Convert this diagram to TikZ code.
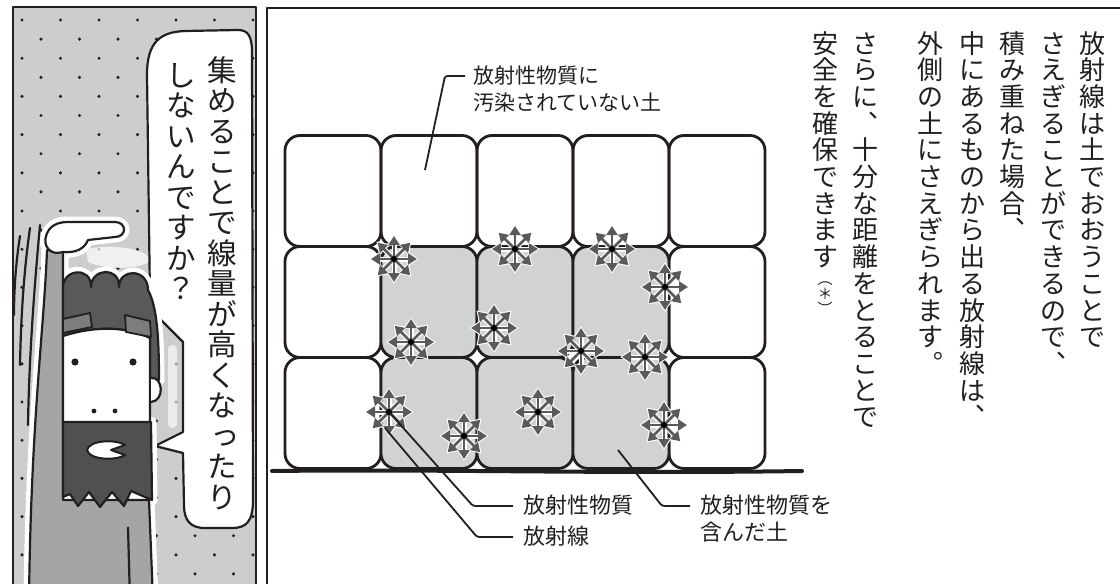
\documentclass[tikz,border=0pt]{standalone}
\usepackage{fontspec}
\newfontfamily\jp{Noto Sans CJK JP}
\usetikzlibrary{arrows.meta}

\definecolor{ink}{HTML}{231F20}
\definecolor{soil}{HTML}{D1D2D4}
\definecolor{symg}{HTML}{5A5A5A}
\definecolor{panelbg}{HTML}{CDCDCD}
\definecolor{armg}{HTML}{A5A5A5}
\definecolor{hairg}{HTML}{595959}
\definecolor{browg}{HTML}{7D7D7D}
\definecolor{beardg}{HTML}{505050}

% vertical writing: one character per cell, cells stacked top to bottom
\makeatletter
\newcommand\tatecol[2]{%
  \vbox{\offinterlineskip
    \@tfor\tatech:=#2\do{%
      \hbox to 1em{\hss\tatech\hss\vrule height .88em depth .12em width 0pt}%
      \vskip#1}}}
\makeatother
% small kana moved towards the upper right of its cell
\newcommand\smk[1]{\hbox{\kern.2em\raise.06em\hbox{#1}}}

\newcommand\rtfont{\fontsize{26pt}{27pt}\selectfont\jp}
\newcommand\bubfont{\fontsize{29.5pt}{30pt}\selectfont\jp}
\newcommand\labA{\fontsize{21pt}{24pt}\selectfont\jp}
\newcommand\labB{\fontsize{22pt}{24pt}\selectfont\jp}
\newcommand\astfont{\fontsize{15pt}{16pt}\selectfont\jp}

% outlines of the cartoon figure
\def\bodypath{(47,250) .. controls (44,330) and (31,420) .. (29,600) -- (153,600) -- (149,500) -- (63,500) -- (63,250) -- cycle}
\def\handpath{(63,252) .. controls (50,256) and (43,246) .. (46,236) .. controls (49,226) and (57,222) .. (68,222) -- (115,222) .. controls (127,222) and (127,237) .. (115,237) -- (88,240) .. controls (84,250) and (74,253) .. (63,252) -- cycle}
\def\hairpath{(63,336) -- (63,290) .. controls (61,268) and (92,266) .. (91,287) .. controls (91,268) and (120,266) .. (119,287) .. controls (119,268) and (148,268) .. (148,290) .. controls (156,305) and (159,330) .. (159,380) -- (150,380) -- (150,338) .. controls (125,326) and (95,326) .. (63,336) -- cycle}
\def\facepath{(63,336) .. controls (95,326) and (125,326) .. (150,338) -- (150,424) -- (63,424) -- cycle}
\def\beardpath{(63,422) -- (151,422) -- (152,500) -- (131,491) -- (124,506) -- (112,492) -- (100,507) -- (89,492) -- (78,506) -- (70,494) -- (63,497) -- cycle}
\def\bubblepath{(150,300) -- (147,75) .. controls (147,42) and (160,32) .. (185,31) -- (238,30) .. controls (248,30) and (252,36) .. (252,52) -- (253,500) .. controls (253,522) and (246,528) .. (232,528) -- (205,528) .. controls (190,528) and (184,520) .. (184,505) -- (183,453) -- (155,446) -- (183,432) -- (183,342) -- (157,316) -- cycle}

\begin{document}
\begin{tikzpicture}[x=1pt,y=-1pt,line join=round,
  blk/.style={draw=ink,line width=2.8pt,rounded corners=15pt,minimum width=96pt,
    minimum height=111pt,inner sep=0pt,outer sep=0pt},
  hotblk/.style={blk,fill=soil},
  labA/.style={anchor=west,inner sep=0pt,text height=17pt,text depth=2.5pt,text=ink,font=\labA},
  labB/.style={anchor=west,inner sep=0pt,text height=18pt,text depth=2.5pt,text=ink,font=\labB},
  lead/.style={draw=ink,line width=1.8pt,rounded corners=2.5pt},
  tate/.style={anchor=north,inner sep=0pt,text=ink},
  outl/.style={draw=ink,line width=2.2pt},
  radsym/.pic={
    \foreach \a in {0,45,...,315}
      \draw[white,line width=5pt,-{Triangle[length=11.5pt,width=14.5pt]}] (0,0) -- (\a:24.8);
    \foreach \a in {0,45,...,315}
      \draw[symg,line width=2.6pt,-{Triangle[length=9pt,width=11pt]}] (0,0) -- (\a:23);
    \fill[black] (0,0) circle (3pt);
  }]
\useasboundingbox (0,0) rectangle (1120,584);
\fill[white] (0,0) rectangle (1120,584);

% ---------- left panel ----------
\begin{scope}
  \clip (13,7) rectangle (256,584);
  \fill[panelbg] (13,7) rectangle (256,584);
  \foreach \k in {0,...,29}{
    \pgfmathsetmacro\yy{20+19.1*\k}
    \pgfmathsetmacro\xo{ifthenelse(mod(\k,2)==0,22,41)}
    \foreach \j in {0,...,6}
      \fill[ink] ({\xo+38.5*\j},\yy) circle (1.7pt);
  }
  % soft highlights
  \fill[white,opacity=.7] (86,250) .. controls (100,244) and (140,246) .. (150,258)
    .. controls (152,268) and (110,272) .. (88,262) -- cycle;
  \fill[white,opacity=.6,rounded corners=4pt] (168,345) rectangle (177,428);

  % speech bubble
  \draw[outl,fill=white] \bubblepath;

  % figure: white halo, then the filled parts
  \path[draw=white,line width=11pt] \bodypath \handpath \hairpath \beardpath;
  \draw[outl,fill=armg] \bodypath;
  \draw[outl] (128,527) -- (130,600);
  \draw[outl,fill=white] \handpath;
  \draw[outl,fill=hairg] \hairpath;
  \draw[outl,fill=white] \facepath;
  \draw[outl,fill=white] (151,378) .. controls (163,376) and (165,401) .. (151,402);
  \draw[outl,fill=beardg] \beardpath;
  \draw[outl,line width=1.8pt,fill=browg] (63,319) -- (90,313) -- (92,327) -- (63,333) -- cycle;
  \draw[outl,line width=1.8pt,fill=browg] (125,315) -- (150,321) -- (151,337) -- (126,332) -- cycle;
  \fill[ink] (75,362) circle (3.6pt) (133,362) circle (3.6pt);
  \fill[ink] (94,411) circle (2.4pt) (115,411) circle (2.4pt);
  \draw[outl,line width=2pt,fill=white] (125,445) .. controls (116,439) and (89,440) .. (87,450)
    .. controls (89,460) and (116,461) .. (125,455) -- (111,450) -- cycle;
  % motion lines of the waving arm
  \draw[outl,line cap=round] (20,236) .. controls (16,262) and (14,288) .. (14,315);
  \draw[outl,line cap=round] (30,228) .. controls (24,270) and (21,315) .. (20,365);
  \draw[outl,line cap=round] (40,225) .. controls (34,290) and (29,360) .. (28,425);
\end{scope}

% bubble text
\node[tate,font=\bubfont] (q1) at (222,55) {\tatecol{1pt}{集めることで線量が高くな{\smk{っ}}たり}};
\node[tate,font=\bubfont] (q2) at (181,60) {\tatecol{1pt}{しないんですか？}};

% panel frames
\draw[ink,line width=2pt] (13,600) -- (13,7) -- (256,7) -- (256,600);
\draw[ink,line width=2.2pt] (1125,8) -- (267,8) -- (267,600);

% ---------- right panel: stacked bags of soil ----------
\foreach \r/\yc in {1/191,2/302,3/413}
  \foreach \c/\xc in {1/333,5/717}
    \node[blk] (b\r\c) at (\xc,\yc) {};
\foreach \c/\xc in {2/429,3/525,4/621}
  \node[blk] (b1\c) at (\xc,191) {};
\foreach \r/\yc in {2/302,3/413}
  \foreach \c/\xc in {2/429,3/525,4/621}
    \node[hotblk] (b\r\c) at (\xc,\yc) {};

% ground
\draw[ink,line width=4pt,line cap=round] (272,471) .. controls (450,469) and (600,474) .. (802,471);

% radiation sources
\foreach \n/\p in {1/{394,259},2/{515,249},3/{612,249},4/{665,287},5/{411,342},6/{494,328},
                   7/{581,351},8/{645,357},9/{389,412},10/{464,436},11/{538,412},12/{664,425}}{
  \coordinate (s\n) at (\p);
  \pic at (s\n) {radsym};
}

% labels
\node[labA] (lnone1) at (473,76) {放射性物質に};
\node[labA] (lnone2) at (473,103) {汚染されていない土};
\node[labB] (lsub) at (523,506) {放射性物質};
\node[labB] (lray) at (523,537) {放射線};
\node[labB] (lhot1) at (700,506) {放射性物質を};
\node[labB] (lhot2) at (700,533) {含んだ土};

\coordinate (cleanpt) at (425,170);
\coordinate (hotpt) at (618,450);
\coordinate (rayend) at (385,428);

\draw[lead] ([xshift=-8pt]lnone1.west) -- ([xshift=-28pt]lnone1.west) -- (cleanpt);
\draw[lead] (s9) -- ([xshift=-50pt]lsub.west) -- ([xshift=-10pt]lsub.west);
\draw[lead] (rayend) -- ([xshift=-46pt]lray.west) -- ([xshift=-10pt]lray.west);
\draw[lead] (hotpt) -- ([xshift=-38pt]lhot1.west) -- ([xshift=-10pt]lhot1.west);

% explanatory text, written top to bottom, columns right to left
\node[tate,font=\rtfont] (r1) at (1092,30) {\tatecol{0.7pt}{放射線は土でおおうことで}};
\node[tate,font=\rtfont] (r2) at (1053,30) {\tatecol{0.7pt}{さえぎることができるので︑}};
\node[tate,font=\rtfont] (r3) at (1012,30) {\tatecol{0.7pt}{積み重ねた場合︑}};
\node[tate,font=\rtfont] (r4) at (972,30) {\tatecol{0.7pt}{中にあるものから出る放射線は︑}};
\node[tate,font=\rtfont] (r5) at (930,30) {\tatecol{0.7pt}{外側の土にさえぎられます︒}};
\node[tate,font=\rtfont] (r6) at (865,30) {\tatecol{0.7pt}{さらに︑十分な距離をとることで}};
\node[tate,font=\rtfont] (r7) at (825,30) {\tatecol{0.7pt}{安全を確保できます}};
\node[tate,font=\astfont] (ast) at (r7.south) {\tatecol{0pt}{︵＊︶}};
\end{tikzpicture}
\end{document}
